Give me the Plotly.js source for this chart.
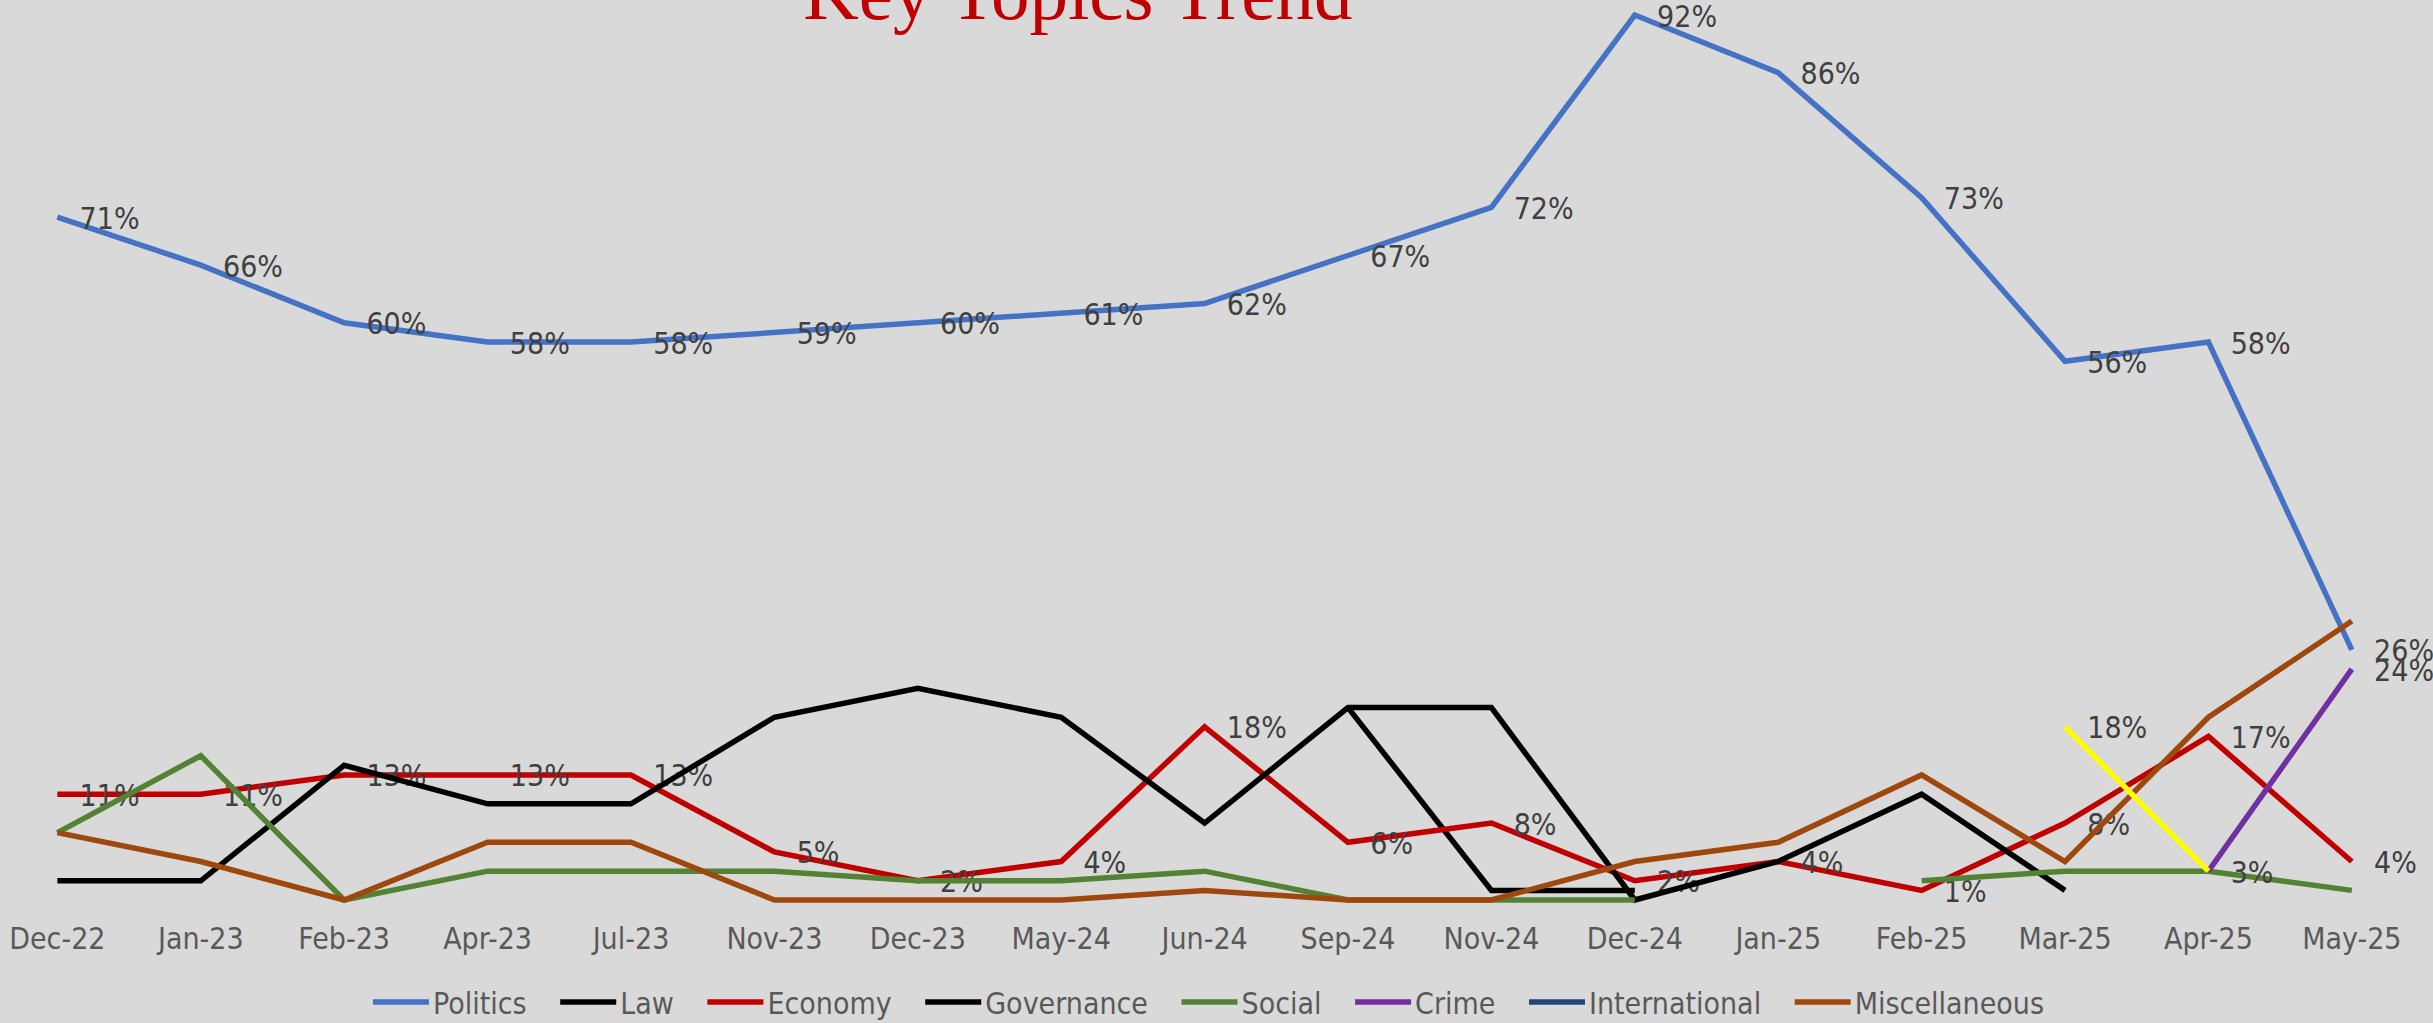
<!DOCTYPE html>
<html>
<head>
<meta charset="utf-8">
<script src="https://cdn.plot.ly/plotly-3.0.1.min.js"></script>
<style>
  html, body { margin: 0; padding: 0; background: #D9D9D9; }
  #chart { width: 2433px; height: 1023px; }
</style>
</head>
<body>
<div id="chart"></div>
<script>
// ---- Data ----
const months = ["Dec-22","Jan-23","Feb-23","Apr-23","Jul-23","Nov-23","Dec-23","May-24","Jun-24","Sep-24","Nov-24","Dec-24","Jan-25","Feb-25","Mar-25","Apr-25","May-25"];
const politics      = [71, 66, 60, 58, 58, 59, 60, 61, 62, 67, 72, 92, 86, 73, 56, 58, 26];
const law           = [null, null, null, null, null, null, null, null, null, 20, 1, 1, null, null, null, null, null];
const economy       = [11, 11, 13, 13, 13, 5, 2, 4, 18, 6, 8, 2, 4, 1, 8, 17, 4];
const governance    = [2, 2, 14, 10, 10, 19, 22, 19, 8, 20, 20, 0, 4, 11, 1, null, null];
const social        = [7, 15, 0, 3, 3, 3, 2, 2, 3, 0, 0, 0, null, 2, 3, 3, 1];
const crime         = [null, null, null, null, null, null, null, null, null, null, null, null, null, null, null, 3, 24];
const international = [null, null, null, null, null, null, null, null, null, null, null, null, null, null, null, null, null];
const miscellaneous = [7, 4, 0, 6, 6, 0, 0, 0, 1, 0, 0, 4, 6, 13, 4, 19, 29];
const unlabeled     = [null, null, null, null, null, null, null, null, null, null, null, null, null, null, 18, 3, null];

const pct = v => (v === null ? "" : v + "%");
const crimeText = crime.map((v, i) => (i === crime.length - 1 ? pct(v) : ""));

const FONT = "Liberation Sans Narrow, DejaVu Sans Condensed, Roboto, sans-serif";
const txtFont = { family: FONT, size: 30, color: "#404040" };
const LW = 5.5;
const ghostMarker = { size: 34, color: "rgba(0,0,0,0)" };
const PAD = "\u00a0\u00a0\u2009";   // spacing after legend entries

function series(name, y, color, opts) {
  return Object.assign({
    type: "scatter", x: months, y: y, name: name,
    mode: "lines",
    line: { color: color, width: LW },
    connectgaps: false,
    cliponaxis: false,
    hoverinfo: "skip"
  }, opts || {});
}

const labelled = (arr) => ({ mode: "lines+markers+text", text: arr, textposition: "middle right", textfont: txtFont, marker: ghostMarker });

const traces = [
  series("Politics" + PAD, politics, "#4472C4", labelled(politics.map(pct))),
  series("Law" + PAD, law, "#000000"),
  series("Economy" + PAD, economy, "#C00000", labelled(economy.map(pct))),
  series("Governance" + PAD, governance, "#000000"),
  series("Social" + PAD, social, "#548235"),
  series("Crime" + PAD, crime, "#7030A0", labelled(crimeText)),
  series("International" + PAD, international, "#264478"),
  series("Miscellaneous", miscellaneous, "#9E480E"),
  series("Other", unlabeled, "#FFFF00", Object.assign(labelled(unlabeled.map(pct)), { showlegend: false }))
];

const layout = {
  width: 2433, height: 1023,
  paper_bgcolor: "#D9D9D9", plot_bgcolor: "#D9D9D9",
  margin: { l: 0, r: 0, t: 0, b: 105, autoexpand: false },
  title: {
    text: "Key Topics Trend",
    font: { family: "Liberation Serif, DejaVu Serif, serif", size: 77, color: "#C00000" },
    xref: "container", yref: "container",
    x: 0.443, xanchor: "center",
    y: 1 - 19 / 1023, yanchor: "bottom"
  },
  xaxis: {
    type: "category",
    range: [-0.4, 16.566],
    showgrid: false, zeroline: false, showline: false, ticks: "",
    tickfont: { family: FONT, size: 30, color: "#595959" },
    fixedrange: true
  },
  yaxis: {
    visible: false,
    range: [-1.87, 93.56],
    fixedrange: true
  },
  showlegend: true,
  legend: {
    orientation: "h",
    x: 0.4965, xanchor: "center",
    y: -0.0915, yanchor: "middle",
    font: { family: FONT, size: 30, color: "#595959" },
    bgcolor: "rgba(0,0,0,0)",
    itemwidth: 56
  },
  hovermode: false
};

Plotly.newPlot("chart", traces, layout, { displayModeBar: false, staticPlot: true }).then(function (gd) {
  // lengthen legend line samples to match the reference (56px, just before the text)
  gd.querySelectorAll(".legend .legendlines path").forEach(function (p) {
    p.setAttribute("d", "M6,0h56");
  });
  // data labels sit a little below their point in the reference
  gd.querySelectorAll(".scatterlayer .textpoint text").forEach(function (t) {
    t.setAttribute("transform", "translate(0,4)");
  });
});
</script>
</body>
</html>
